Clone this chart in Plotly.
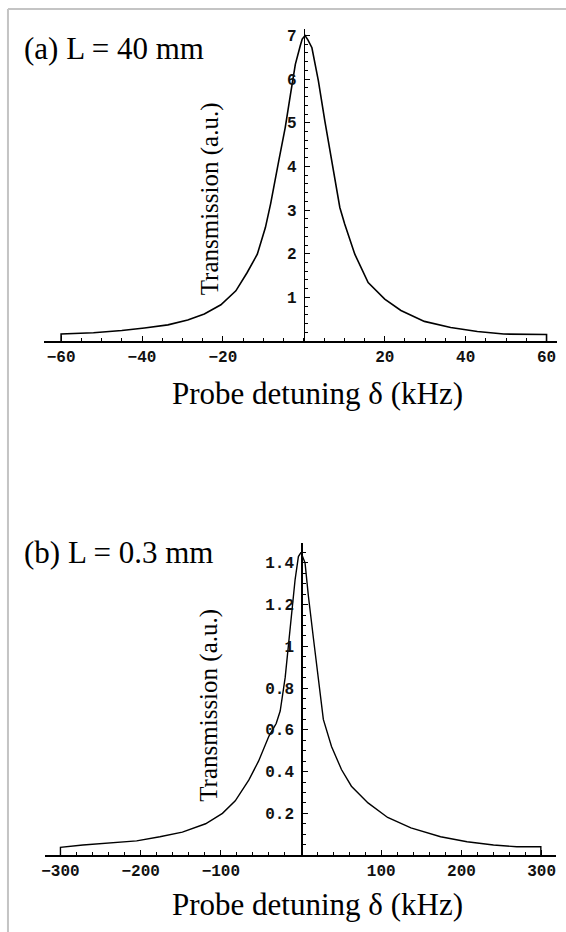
import plotly.graph_objects as go

W, H = 566, 932

# ---- data ----
top_delta = [-60, -60, -52, -45, -39.4, -33.6, -28.7, -24.6, -20.5, -16.8, -14.0, -11.5,
             -9.5, -8.2, -6.2, -4.6, -3.3, -2.1, -0.9, -0.4, 0.3, 1.0, 2.0, 3.6, 5.2, 6.9,
             8.9, 10.1, 12.6, 15.9, 20.0, 24.0, 29.8, 36.3, 42.9, 49.4, 60, 60]
top_trans = [0, 0.16, 0.19, 0.24, 0.30, 0.37, 0.48, 0.62, 0.83, 1.15, 1.57, 1.99,
             2.60, 3.15, 4.13, 4.89, 5.65, 6.34, 6.76, 6.92, 7.0, 6.9, 6.72, 5.96, 5.04, 4.13,
             3.06, 2.68, 1.99, 1.34, 0.96, 0.70, 0.45, 0.31, 0.22, 0.16, 0.15, 0]

bot_delta = [-300, -300, -272, -239, -205, -176, -148, -119, -98, -82, -65, -53, -40,
             -31, -26, -19.8, -14.9, -10.7, -7.4, -3.3, 0, 5, 9.2, 15.4, 21.6, 27.8,
             38, 50.4, 62.8, 83.5, 108, 137, 174, 207, 240, 269, 299, 299]
bot_trans = [0, 0.037, 0.048, 0.059, 0.068, 0.088, 0.11, 0.15, 0.20, 0.26, 0.36, 0.45,
             0.57, 0.63, 0.69, 0.85, 1.03, 1.17, 1.32, 1.43, 1.45, 1.40, 1.24, 1.04, 0.85,
             0.65, 0.52, 0.41, 0.33, 0.25, 0.18, 0.13, 0.088, 0.064, 0.048, 0.040, 0.040, 0]

top_xticks = [-60, -40, -20, 20, 40, 60]
top_yticks = [1, 2, 3, 4, 5, 6, 7]
bot_xticks = [-300, -200, -100, 100, 200, 300]
bot_yticks = [0.2, 0.4, 0.6, 0.8, 1, 1.2, 1.4]
bot_ylabels = ["0.2", "0.4", "0.6", "0.8", "1", "1.2", "1.4"]

panel_titles = ["(a) L = 40 mm", "(b) L = 0.3 mm"]
x_title = "Probe detuning δ (kHz)"
y_title = "Transmission (a.u.)"

# ---- layout helpers ----
def px_x(p):
    return p / W

def px_y(p):
    return 1 - p / H

tick_font = dict(family="Liberation Mono", size=16, color="#111111", weight="bold")
serif = "Liberation Serif"

fig = go.Figure()
fig.add_trace(go.Scatter(x=top_delta, y=top_trans, mode="lines",
                         line=dict(color="black", width=1.6), xaxis="x", yaxis="y",
                         showlegend=False, hoverinfo="skip"))
fig.add_trace(go.Scatter(x=bot_delta, y=bot_trans, mode="lines",
                         line=dict(color="black", width=1.4), xaxis="x2", yaxis="y2",
                         showlegend=False, hoverinfo="skip"))

common_x = dict(showgrid=False, zeroline=False, showline=True, linecolor="black",
                linewidth=1.5, ticks="inside", ticklen=5, tickcolor="black",
                tickfont=tick_font, fixedrange=True)
common_y = dict(showgrid=False, zeroline=False, showline=True, linecolor="black",
                linewidth=1.5, ticks="inside", ticklen=5, tickcolor="black",
                tickfont=tick_font, fixedrange=True, anchor="free", side="left",
                ticklabelstandoff=4)

fig.update_layout(
    width=W, height=H,
    margin=dict(l=0, r=0, t=0, b=0),
    paper_bgcolor="white", plot_bgcolor="rgba(0,0,0,0)",
    xaxis=dict(common_x, domain=[px_x(40), px_x(557)], range=[-64.3, 62.6],
               tickvals=top_xticks, anchor="y",
               minor=dict(ticks="inside", ticklen=3, dtick=5, tick0=0, tickcolor="black")),
    yaxis=dict(common_y, domain=[px_y(340.4), px_y(28)], range=[0, 7.15],
               tickvals=top_yticks, position=px_x(302),
               minor=dict(ticks="inside", ticklen=3, dtick=0.2, tick0=0, tickcolor="black")),
    xaxis2=dict(common_x, domain=[px_x(41.5), px_x(556)], range=[-319, 318],
                tickvals=bot_xticks, anchor="y2",
                minor=dict(ticks="inside", ticklen=3, dtick=20, tick0=0, tickcolor="black")),
    yaxis2=dict(common_y, domain=[px_y(855), px_y(543)], range=[0, 1.493],
                tickvals=bot_yticks, ticktext=bot_ylabels, position=px_x(299.3),
                minor=dict(ticks="inside", ticklen=3, dtick=0.05, tick0=0, tickcolor="black")),
)

annotations = [
    dict(text=panel_titles[0], x=px_x(18), y=px_y(48), xanchor="left", yanchor="middle",
         font=dict(family=serif, size=31, color="black")),
    dict(text=panel_titles[1], x=px_x(18), y=px_y(552), xanchor="left", yanchor="middle",
         font=dict(family=serif, size=31, color="black")),
    dict(text=x_title, x=px_x(316), y=px_y(393), xanchor="center", yanchor="middle",
         font=dict(family=serif, size=31, color="black")),
    dict(text=x_title, x=px_x(316), y=px_y(904), xanchor="center", yanchor="middle",
         font=dict(family=serif, size=31, color="black")),
    dict(text=y_title, x=px_x(207), y=px_y(198), xanchor="center", yanchor="middle",
         textangle=-90, font=dict(family=serif, size=25, color="black")),
    dict(text=y_title, x=px_x(207), y=px_y(705), xanchor="center", yanchor="middle",
         textangle=-90, font=dict(family=serif, size=25, color="black")),
]
for a in annotations:
    a.update(xref="paper", yref="paper", showarrow=False)
fig.update_layout(annotations=annotations)

# light frame at top and left edges of the picture
fig.update_layout(shapes=[
    dict(type="line", xref="paper", yref="paper", x0=px_x(4), x1=px_x(4), y0=0, y1=px_y(8),
         line=dict(color="#c4c4c4", width=2)),
    dict(type="line", xref="paper", yref="paper", x0=px_x(4), x1=1, y0=px_y(8), y1=px_y(8),
         line=dict(color="#c4c4c4", width=2)),
])

fig.write_html(
    "out.html",
    config={"displayModeBar": False, "staticPlot": True},
    post_script="document.body.style.margin='0';document.body.style.overflow='hidden';",
)
